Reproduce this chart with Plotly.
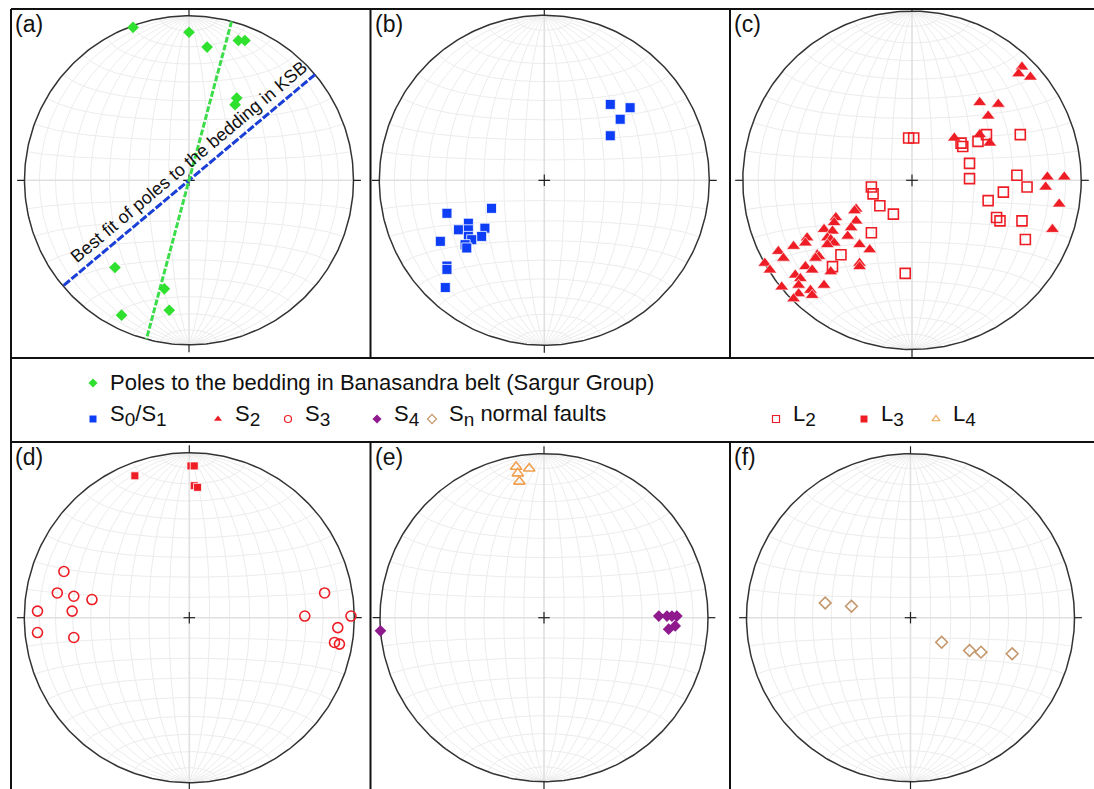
import numpy as np
import plotly.graph_objects as go

W, H = 1094, 789
FONT = "Liberation Sans, Arial, Helvetica, sans-serif"

# ---------------------------------------------------------------------------
# Measurements, as positions on the lower-hemisphere equal-area net
# (east, north), primitive circle radius = 1
# ---------------------------------------------------------------------------
# (a) poles to the bedding, Banasandra belt (Sargur Group)
bed_e = [-0.34, 0.00, 0.11, 0.30, 0.34, 0.29, 0.28, -0.45, -0.15, -0.12, -0.41]
bed_n = [0.93, 0.90, 0.81, 0.85, 0.85, 0.50, 0.46, -0.53, -0.66, -0.79, -0.82]
# fitted planes in (a): (strike, dip)
ksb_fit_plane = (50, 90)
banasandra_plane = (15, 90)
ksb_fit_label = "Best fit of poles to the bedding in KSB"

# (b) S0/S1
s01_e = [0.40, 0.52, 0.46, 0.40,
         -0.59, -0.32, -0.46, -0.52, -0.36, -0.46, -0.63, -0.46, -0.38,
         -0.44, -0.48, -0.47, -0.59, -0.59, -0.60]
s01_n = [0.46, 0.44, 0.37, 0.27,
         -0.20, -0.17, -0.26, -0.30, -0.29, -0.30, -0.37, -0.34, -0.34,
         -0.36, -0.39, -0.41, -0.52, -0.54, -0.65]

# (c) S2 and L2
s2_e = [0.65, 0.63, 0.70, 0.40, 0.51, 0.45, 0.25, 0.40, 0.46,
        0.80, 0.90, 0.79, 0.87, 0.83,
        -0.33, -0.34, -0.45, -0.46, -0.33, -0.52, -0.36, -0.38, -0.47,
        -0.50, -0.48, -0.46, -0.50, -0.62, -0.63, -0.70, -0.79, -0.76,
        -0.31, -0.25, -0.56, -0.55, -0.57, -0.87, -0.84, -0.63, -0.59,
        -0.48, -0.31, -0.31, -0.69, -0.66, -0.67, -0.77, -0.60, -0.52,
        -0.67, -0.59, -0.70]
s2_n = [0.67, 0.63, 0.61, 0.46, 0.45, 0.38, 0.25, 0.27, 0.22,
        0.02, 0.02, -0.04, -0.14, -0.29,
        -0.17, -0.18, -0.22, -0.25, -0.24, -0.29, -0.28, -0.33, -0.30,
        -0.34, -0.35, -0.37, -0.38, -0.34, -0.37, -0.39, -0.42, -0.46,
        -0.38, -0.41, -0.44, -0.45, -0.46, -0.49, -0.53, -0.51, -0.53,
        -0.54, -0.49, -0.51, -0.56, -0.58, -0.62, -0.63, -0.65, -0.62,
        -0.67, -0.68, -0.70]
l2_e = [-0.02, 0.01, 0.29, 0.30, 0.39, 0.44, 0.64, 0.34, 0.34, 0.62,
        0.68, 0.54, 0.45, 0.50, 0.52, 0.65, 0.67,
        -0.24, -0.23, -0.19, -0.11, -0.24, -0.42, -0.47, -0.04]
l2_n = [0.25, 0.25, 0.22, 0.20, 0.23, 0.27, 0.27, 0.10, 0.01, 0.03,
        -0.04, -0.07, -0.12, -0.22, -0.24, -0.24, -0.35,
        -0.04, -0.08, -0.15, -0.20, -0.31, -0.44, -0.51, -0.55]

# (d) S3 and L3
s3_e = [-0.76, -0.80, -0.70, -0.59, -0.92, -0.71, -0.92, -0.70,
        0.82, 0.70, 0.98, 0.90, 0.88, 0.91]
s3_n = [0.28, 0.15, 0.13, 0.11, 0.04, 0.04, -0.09, -0.12,
        0.15, 0.01, 0.01, -0.06, -0.15, -0.16]
l3_e = [-0.33, 0.01, 0.03, 0.03, 0.05]
l3_n = [0.86, 0.92, 0.92, 0.80, 0.79]

# (e) S4 and L4
s4_e = [0.70, 0.75, 0.78, 0.81, 0.76, 0.80, -0.997]
s4_n = [0.01, 0.01, 0.01, 0.01, -0.07, -0.05, -0.08]
l4_e = [-0.17, -0.09, -0.16, -0.15]
l4_n = [0.92, 0.91, 0.88, 0.83]

# (f) Sn normal faults
sn_e = [-0.52, -0.36, 0.19, 0.36, 0.43, 0.62]
sn_n = [0.09, 0.07, -0.15, -0.20, -0.21, -0.22]

# ---------------------------------------------------------------------------
# Styles
# ---------------------------------------------------------------------------
GREEN = "#2fe02f"
BLUE = "#0d3ef5"
RED = "#ee1d25"
PURPLE = "#8e1a8e"
ORANGE = "#f0a050"
TAN = "#c4976c"

# panel frames (pixels: x0, x1, y0, y1), net centre and radius in pixels
panels = [
    dict(tag="(a)", box=(11, 370.5, 9, 358), c=(189.0, 180.3), r=164.5),
    dict(tag="(b)", box=(370.5, 730, 9, 358), c=(544.3, 180.3), r=165.0),
    dict(tag="(c)", box=(730, 1094, 9, 358), c=(912.0, 180.3), r=169.2),
    dict(tag="(d)", box=(11, 370.5, 442, 789), c=(189.3, 617.7), r=165.0),
    dict(tag="(e)", box=(370.5, 730, 442, 789), c=(544.0, 617.7), r=164.0),
    dict(tag="(f)", box=(730, 1094, 442, 789), c=(910.5, 617.7), r=164.0),
]


def to_net(x, y, z):
    """Lambert equal-area projection of lower-hemisphere unit vectors."""
    k = 1.0 / np.sqrt(1.0 + z)
    return x * k, y * k


def net_grid(step=10):
    t = np.linspace(0, np.pi, 121)
    xs, ys = [], []
    # great circles through the N and S poles
    for d in np.radians(np.arange(step, 90, step)):
        for sgn in (1, -1):
            X, Y = to_net(sgn * np.sin(t) * np.cos(d), np.cos(t), np.sin(t) * np.sin(d))
            xs += list(X) + [None]
            ys += list(Y) + [None]
    # small circles about the N-S axis
    for a in np.radians(np.arange(step, 180, step)):
        if abs(a - np.pi / 2) < 1e-9:
            continue
        X, Y = to_net(np.sin(a) * np.cos(t), np.full_like(t, np.cos(a)), np.sin(a) * np.sin(t))
        xs += list(X) + [None]
        ys += list(Y) + [None]
    return xs, ys


def great_circle(strike, dip):
    s, d = np.radians(strike), np.radians(dip)
    t = np.linspace(0, np.pi, 181)
    sv = np.array([np.sin(s), np.cos(s), 0.0])
    dv = np.array([np.sin(s + np.pi / 2) * np.cos(d), np.cos(s + np.pi / 2) * np.cos(d), np.sin(d)])
    v = np.outer(np.cos(t), sv) + np.outer(np.sin(t), dv)
    return to_net(v[:, 0], v[:, 1], v[:, 2])


GRID_X, GRID_Y = net_grid(10)
th = np.linspace(0, 2 * np.pi, 361)
CIRC_X, CIRC_Y = np.cos(th), np.sin(th)
TK, CR = 1.045, 0.035
TICK_X = [0, 0, None, 0, 0, None, 1, TK, None, -1, -TK, None, -CR, CR, None, 0, 0]
TICK_Y = [1, TK, None, -1, -TK, None, 0, 0, None, 0, 0, None, 0, 0, None, -CR, CR]

fig = go.Figure()
layout = dict(
    width=W, height=H, margin=dict(l=0, r=0, t=0, b=0),
    paper_bgcolor="white", plot_bgcolor="white", showlegend=False,
    font=dict(family=FONT, color="#111"),
)
annotations = []
shapes = []


def add_net(i):
    p = panels[i]
    x0, x1, y0, y1 = p["box"]
    cx, cy = p["c"]
    r = p["r"]
    sfx = "" if i == 0 else str(i + 1)
    layout["xaxis" + sfx] = dict(domain=[x0 / W, x1 / W], range=[(x0 - cx) / r, (x1 - cx) / r],
                                 visible=False, fixedrange=True, anchor="y" + sfx)
    layout["yaxis" + sfx] = dict(domain=[1 - y1 / H, 1 - y0 / H], range=[(cy - y1) / r, (cy - y0) / r],
                                 visible=False, fixedrange=True, anchor="x" + sfx)
    ax = dict(xaxis="x" + sfx, yaxis="y" + sfx)
    fig.add_trace(go.Scatter(x=GRID_X, y=GRID_Y, mode="lines", hoverinfo="skip",
                             line=dict(color="#ececec", width=1), **ax))
    fig.add_trace(go.Scatter(x=[-1, 1, None, 0, 0], y=[0, 0, None, -1, 1], mode="lines",
                             hoverinfo="skip", line=dict(color="#e0e0e0", width=1.6), **ax))
    fig.add_trace(go.Scatter(x=CIRC_X, y=CIRC_Y, mode="lines", hoverinfo="skip",
                             line=dict(color="#333", width=1.5), **ax))
    fig.add_trace(go.Scatter(x=TICK_X, y=TICK_Y, mode="lines", hoverinfo="skip",
                             line=dict(color="#222", width=1.2), **ax))
    annotations.append(dict(text=p["tag"], xref="paper", yref="paper", x=(x0 + 2) / W, y=1 - (y0 + 0) / H,
                            xanchor="left", yanchor="top", showarrow=False,
                            font=dict(size=23, family=FONT, color="#111")))
    return ax


def pts(ax, e, n, symbol, color, size, filled=True, edge="white", edge_w=0.8):
    if filled:
        marker = dict(symbol=symbol, color=color, size=size, line=dict(color=edge, width=edge_w))
    else:
        marker = dict(symbol=symbol + "-open", color=color, size=size, line=dict(color=color, width=1.6))
    fig.add_trace(go.Scatter(x=e, y=n, mode="markers", marker=marker, **ax))


# (a)
ax = add_net(0)
bx, by = great_circle(*ksb_fit_plane)
fig.add_trace(go.Scatter(x=bx, y=by, mode="lines", line=dict(color="#1a3fd6", width=3, dash="8px,2px"), **ax))
gx, gy = great_circle(*banasandra_plane)
fig.add_trace(go.Scatter(x=gx, y=gy, mode="lines", line=dict(color="#3cdc4a", width=3, dash="6px,2px"), **ax))
pts(ax, bed_e, bed_n, "diamond", GREEN, 9, edge=GREEN, edge_w=0)
s = np.radians(ksb_fit_plane[0])
along, perp = 0.07, 0.085
annotations.append(dict(text=ksb_fit_label, xref=ax["xaxis"], yref=ax["yaxis"],
                        x=along * np.sin(s) - perp * np.cos(s), y=along * np.cos(s) + perp * np.sin(s),
                        textangle=-(90 - ksb_fit_plane[0]), showarrow=False,
                        xanchor="center", yanchor="middle", font=dict(size=18, family=FONT, color="#111")))

# (b)
ax = add_net(1)
pts(ax, s01_e, s01_n, "square", BLUE, 10)

# (c)
ax = add_net(2)
pts(ax, s2_e, s2_n, "triangle-up", RED, 12, edge_w=0.6)
pts(ax, l2_e, l2_n, "square", RED, 10, filled=False)

# (d)
ax = add_net(3)
pts(ax, s3_e, s3_n, "circle", RED, 10, filled=False)
pts(ax, l3_e, l3_n, "square", RED, 8)

# (e)
ax = add_net(4)
pts(ax, s4_e, s4_n, "diamond", PURPLE, 9, edge=PURPLE, edge_w=0)
pts(ax, l4_e, l4_n, "triangle-up", ORANGE, 10, filled=False)

# (f)
ax = add_net(5)
pts(ax, sn_e, sn_n, "diamond", TAN, 9, filled=False)

# ---------------------------------------------------------------------------
# Key between the two rows of nets
# ---------------------------------------------------------------------------
layout["xaxis7"] = dict(domain=[0, 1], range=[0, W], visible=False, fixedrange=True, anchor="y7")
layout["yaxis7"] = dict(domain=[1 - 442 / H, 1 - 358 / H], range=[442, 358], visible=False,
                        fixedrange=True, anchor="x7")


def sub(t):
    return "<sub><span style='font-size:19px'>%s</span></sub>" % t


key_labels = ["Poles to the bedding in Banasandra belt (Sargur Group)",
              "S" + sub("0") + "/S" + sub("1"), "S" + sub("2"), "S" + sub("3"), "S" + sub("4"),
              "S" + sub("n") + " normal faults", "L" + sub("2"), "L" + sub("3"), "L" + sub("4")]
key_symbols = ["diamond", "square", "triangle-up", "circle-open", "diamond", "diamond-open",
               "square-open", "square", "triangle-up-open"]
key_colors = [GREEN, BLUE, RED, RED, PURPLE, TAN, RED, RED, ORANGE]
key_x = [93, 93, 218, 288, 377, 432, 776, 864, 936]
key_row = [0, 1, 1, 1, 1, 1, 1, 1, 1]
row_marker_y = [383, 419]
row_text_y = [382, 415]

for lab, sym, col, kx, row in zip(key_labels, key_symbols, key_colors, key_x, key_row):
    fig.add_trace(go.Scatter(x=[kx], y=[row_marker_y[row]], mode="markers", xaxis="x7", yaxis="y7",
                             marker=dict(symbol=sym, color=col, size=7,
                                         line=dict(color=col, width=1.2 if "open" in sym else 0))))
    annotations.append(dict(text=lab, xref="x7", yref="y7", x=kx + 15, y=row_text_y[row],
                            xanchor="left", yanchor="middle", showarrow=False,
                            font=dict(size=22, family=FONT, color="#111")))


# panel frames
def hline(y, x0, x1):
    shapes.append(dict(type="line", xref="paper", yref="paper", x0=x0 / W, x1=x1 / W,
                       y0=1 - y / H, y1=1 - y / H, line=dict(color="#111", width=2)))


def vline(x, y0, y1):
    shapes.append(dict(type="line", xref="paper", yref="paper", x0=x / W, x1=x / W,
                       y0=1 - y0 / H, y1=1 - y1 / H, line=dict(color="#111", width=2)))


hline(9, 11, W)
hline(358, 11, W)
hline(442, 11, W)
vline(11, 9, H)
for xv in (370.5, 730):
    vline(xv, 9, 358)
    vline(xv, 442, H)

layout["annotations"] = annotations
layout["shapes"] = shapes
fig.update_layout(**layout)
fig.write_html("out.html")
